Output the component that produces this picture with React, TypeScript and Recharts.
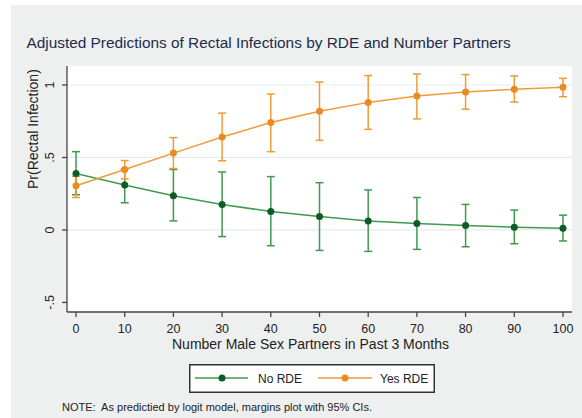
import React from 'react';
import { ComposedChart, Line, XAxis, YAxis, ErrorBar, CartesianGrid, ReferenceLine } from 'recharts';

const partners = [0, 10, 20, 30, 40, 50, 60, 70, 80, 90, 100];
const noRde = [0.39, 0.31, 0.236, 0.176, 0.127, 0.093, 0.0625, 0.044, 0.03, 0.019, 0.012];
const noRdeLow = [0.243, 0.1875, 0.0625, -0.046, -0.109, -0.141, -0.148, -0.134, -0.116, -0.095, -0.076];
const noRdeHigh = [0.54, 0.42, 0.417, 0.4, 0.368, 0.326, 0.276, 0.224, 0.176, 0.137, 0.102];
const yesRde = [0.305, 0.417, 0.53, 0.641, 0.741, 0.819, 0.88, 0.924, 0.951, 0.97, 0.984];
const yesRdeLow = [0.224, 0.352, 0.424, 0.477, 0.54, 0.618, 0.694, 0.766, 0.833, 0.882, 0.919];
const yesRdeHigh = [0.37, 0.479, 0.637, 0.806, 0.9375, 1.02, 1.065, 1.076, 1.072, 1.0625, 1.046];
const xTicks = [0, 10, 20, 30, 40, 50, 60, 70, 80, 90, 100];
const yTicks = [-0.5, 0, 0.5, 1];
const yTickLabels: Record<string, string> = { '-0.5': '-.5', '0': '0', '0.5': '.5', '1': '1' };
const gridValues = [0, 0.5, 1];
const seriesNames = ['No RDE', 'Yes RDE'];

const data = partners.map((p, i) => ({
  x: p,
  no: noRde[i],
  noErr: [noRde[i] - noRdeLow[i], noRdeHigh[i] - noRde[i]],
  yes: yesRde[i],
  yesErr: [yesRde[i] - yesRdeLow[i], yesRdeHigh[i] - yesRde[i]],
}));

const GREEN_LINE = '#3f9a4c';
const GREEN_DOT = '#0e5b27';
const ORANGE_LINE = '#f29a35';
const ORANGE_DOT = '#ec8a22';
const FONT = 'Liberation Sans, Arial, sans-serif';

const YTick = (props: any) => {
  const { x, y, payload } = props;
  const lbl = yTickLabels[String(payload.value)] ?? String(payload.value);
  return (
    <text x={x - 6} y={y} transform={`rotate(-90 ${x - 6} ${y})`} textAnchor="middle" fontSize={12.5} fill="#222" fontFamily={FONT}>
      {lbl}
    </text>
  );
};

const XTick = (props: any) => {
  const { x, y, payload } = props;
  return (
    <text x={x} y={y + 14} textAnchor="middle" fontSize={12.5} fill="#222" fontFamily={FONT}>
      {payload.value}
    </text>
  );
};

const LegendBox = () => (
  <svg width={246} height={29} style={{ display: 'block' }}>
    <rect x={0.75} y={0.75} width={244.5} height={27.5} fill="#fff" stroke="#333" strokeWidth={1.5} />
    <line x1={6} y1={14} x2={59} y2={14} stroke={GREEN_LINE} strokeWidth={1.5} />
    <circle cx={33} cy={14} r={3.5} fill={GREEN_DOT} />
    <text x={69} y={18.5} fontSize={12} fontFamily={FONT} fill="#222">{seriesNames[0]}</text>
    <line x1={129} y1={14} x2={183} y2={14} stroke={ORANGE_LINE} strokeWidth={1.5} />
    <circle cx={156} cy={14} r={3.5} fill={ORANGE_DOT} />
    <text x={191} y={18.5} fontSize={12} fontFamily={FONT} fill="#222">{seriesNames[1]}</text>
  </svg>
);

export default function App() {
  return (
    <div style={{ position: 'absolute', left: 0, top: 0, width: 582, height: 418, background: '#fff', overflow: 'hidden' }}>
      <div style={{ position: 'absolute', left: 11, top: 5, width: 571, height: 413, background: '#eef0f0' }} />
      <div style={{ position: 'absolute', left: 0, top: 34, width: 537, textAlign: 'center', fontFamily: FONT, fontSize: 15.4, color: '#1f2b4d', whiteSpace: 'nowrap' }}>
        Adjusted Predictions of Rectal Infections by RDE and Number Partners
      </div>
      <div style={{ position: 'absolute', left: 62, top: 401, fontFamily: FONT, fontSize: 11, color: '#222', whiteSpace: 'nowrap' }}>
        NOTE:&nbsp; As predictied by logit model, margins plot with 95% CIs.
      </div>
      <div style={{ position: 'absolute', left: 0, top: 0 }}>
        <ComposedChart width={582} height={418} data={data} margin={{ top: 66, right: 10, left: 0, bottom: 0 }}>
          <CartesianGrid fill="#ffffff" horizontal={false} vertical={false} stroke="none" />
          {gridValues.map((v) => (
            <ReferenceLine key={v} y={v} stroke="#e2eeee" strokeWidth={1.2} />
          ))}
          <XAxis
            dataKey="x"
            type="number"
            domain={[-1.85, 101.85]}
            ticks={xTicks}
            interval={0}
            height={106}
            tick={<XTick />}
            tickSize={5}
            axisLine={{ stroke: '#444', strokeWidth: 1.3 }}
            tickLine={{ stroke: '#444', strokeWidth: 1.3 }}
            label={{ value: 'Number Male Sex Partners in Past 3 Months', position: 'insideTop', offset: 27, dx: -9, fontSize: 14, fill: '#222', fontFamily: FONT }}
          />
          <YAxis
            type="number"
            domain={[-0.566, 1.131]}
            ticks={yTicks}
            interval={0}
            width={67}
            tick={<YTick />}
            tickSize={5}
            axisLine={{ stroke: '#444', strokeWidth: 1.3 }}
            tickLine={{ stroke: '#444', strokeWidth: 1.3 }}
            allowDataOverflow
            label={{ value: 'Pr(Rectal Infection)', angle: -90, position: 'insideLeft', dx: 28, dy: 0, fontSize: 14, fill: '#222', fontFamily: FONT }}
          />
          <Line dataKey="no" stroke="none" dot={false} activeDot={false} isAnimationActive={false} legendType="none">
            <ErrorBar dataKey="noErr" width={4} stroke={GREEN_LINE} strokeWidth={1.5} direction="y" isAnimationActive={false} />
          </Line>
          <Line dataKey="yes" stroke="none" dot={false} activeDot={false} isAnimationActive={false} legendType="none">
            <ErrorBar dataKey="yesErr" width={4} stroke={ORANGE_LINE} strokeWidth={1.5} direction="y" isAnimationActive={false} />
          </Line>
          <Line dataKey="no" name={seriesNames[0]} stroke={GREEN_LINE} strokeWidth={1.5} dot={{ r: 3.5, fill: GREEN_DOT, stroke: GREEN_DOT, strokeWidth: 0 }} activeDot={false} isAnimationActive={false} />
          <Line dataKey="yes" name={seriesNames[1]} stroke={ORANGE_LINE} strokeWidth={1.5} dot={{ r: 3.5, fill: ORANGE_DOT, stroke: ORANGE_DOT, strokeWidth: 0 }} activeDot={false} isAnimationActive={false} />
        </ComposedChart>
      </div>
      <div style={{ position: 'absolute', left: 189, top: 364 }}>
        <LegendBox />
      </div>
    </div>
  );
}
